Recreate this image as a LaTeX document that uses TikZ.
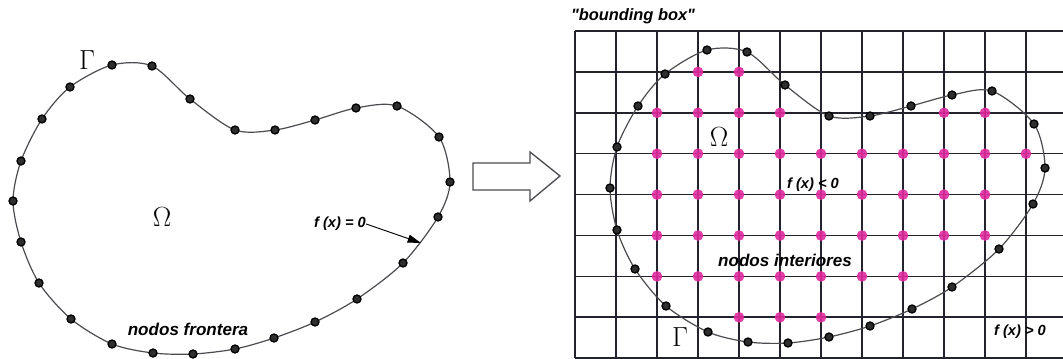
\documentclass[tikz,border=0pt]{standalone}
\usepackage{fontspec}
\newfontfamily\rotulo{Liberation Sans}
\usepackage{xcolor}
\usepackage{tikz}
\usetikzlibrary{arrows.meta}

\definecolor{nodomag}{RGB}{224,42,158}
\definecolor{gridgris}{RGB}{35,35,45}
\definecolor{curvagris}{RGB}{75,75,80}

\begin{document}
\begin{tikzpicture}[x=0.75pt, y=-0.75pt,
    every node/.style={font=\rotulo\bfseries\itshape\fontsize{11}{13}\selectfont, inner sep=0pt},
    rejilla/.style={draw=gridgris, line width=1.2pt},
    contorno/.style={draw=curvagris, line width=0.9pt},
    nodofront/.style={mark=*, mark size=3pt, mark options={draw=black, fill=black!82, line width=1pt}},
    nodoint/.style={fill=nodomag, opacity=0.9},
    griego/.style={font=\fontsize{21}{25}\selectfont}]
    \useasboundingbox (0,0) rectangle (1063,359);

    % Dominio con nodos frontera
    \draw[contorno] plot[smooth cycle, nodofront] coordinates {
      (112,65) (152,66) (190,99) (235,130) (275,130) (315,120) (356,108) (397,106)
      (439,137) (450,182) (438,217) (403,263) (357,299) (315,322) (274,338) (235,349)
      (193,354) (153,353) (112,344) (71,319) (39,283) (21,242) (13,201) (21,161)
      (42,119) (70,87)};
    \node[griego] (gamizq) at (87,60) {$\Gamma$};
    \node[griego] (omeizq) at (162,217) {$\Omega$};
    \node (fcero) at (340,224) {f (x) = 0};
    \coordinate (pfront) at (421,243);
    \draw[-{Triangle[length=10pt, width=6pt]}, line width=0.7pt] (fcero.east) -- (pfront);
    \node[font=\rotulo\bfseries\itshape\fontsize{12.8}{15}\selectfont] (nfront) at (188,329) {nodos frontera};

    % Flecha hueca
    \draw[draw=curvagris, line width=1pt, line join=miter] (473,163) -- (530,163) -- (530,152) -- (560,176)
      -- (530,201) -- (530,190) -- (473,190) -- cycle;

    % Bounding box con la rejilla
    \node[font=\rotulo\bfseries\itshape\fontsize{12.3}{15}\selectfont] (bbox) at (633,16) {"bounding box"};
    \foreach \i in {0,...,11}
      \draw[rejilla] ({575+41*\i},31) -- ({575+41*\i},358);
    \foreach \j in {0,...,8}
      \draw[rejilla] (575,{31+40.9*\j}) -- (1063,{31+40.9*\j});

    % Nodos interiores
    \foreach \fila/\cols in {1/{3,4}, 2/{2,3,4,5,9,10}, 3/{2,...,11}, 4/{2,...,10},
        5/{2,...,10}, 6/{2,...,8}, 7/{4,5,6}}
      \foreach \c in \cols
        \fill[nodoint] ({575+41*\c},{31+40.9*\fila}) circle (4pt);

    \draw[contorno] plot[smooth cycle, nodofront] coordinates {
      (707,50) (747,52) (785,85) (829,116) (870,116) (911,106) (952,95) (992,91)
      (1034,124) (1045,168) (1033,204) (999,249) (952,287) (912,309) (870,326) (829,337)
      (788,343) (748,342) (708,332) (666,306) (635,269) (617,230) (610,188) (617,147)
      (638,106) (665,74)};
    \node[griego] (omeder) at (719,137) {$\Omega$};
    \node[griego] (gamder) at (680,337) {$\Gamma$};
    \node (fneg) at (813,185) {f (x) < 0};
    \node[font=\rotulo\bfseries\itshape\fontsize{12.8}{15}\selectfont] (nint) at (785,260) {nodos interiores};
    \node (fpos) at (1020,332) {f (x) > 0};
  \end{tikzpicture}
\end{document}
